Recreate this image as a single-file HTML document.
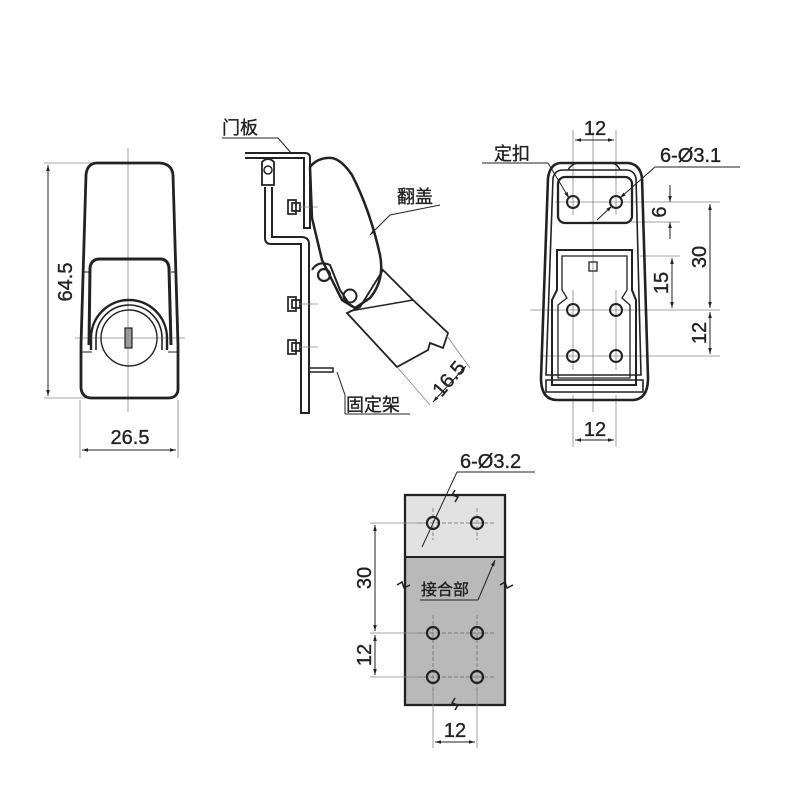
<!DOCTYPE html>
<html><head><meta charset="utf-8"><style>
html,body{margin:0;padding:0;background:#fff;}
svg{display:block;}
text{font-family:"Liberation Sans","Noto Sans CJK SC",sans-serif;fill:#222;stroke:#222;stroke-width:0.35;}
</style></head><body>
<svg width="800" height="800" viewBox="0 0 800 800" xmlns="http://www.w3.org/2000/svg">
<defs>
<marker id="a" viewBox="0 0 10 10" refX="10" refY="5" markerWidth="8" markerHeight="6" orient="auto-start-reverse"><path d="M0,2 L10,5 L0,8 z" fill="#222"/></marker>
</defs>
<g stroke="#222" fill="none">
<!-- LEFT VIEW -->
<g stroke="#888" stroke-width="0.8">
<line x1="128" y1="148" x2="128" y2="412"/>
<line x1="75" y1="338" x2="185" y2="338"/>
<line x1="44" y1="163" x2="130" y2="163"/>
<line x1="44" y1="398" x2="90" y2="398"/>
<line x1="80" y1="400" x2="80" y2="458"/>
<line x1="178" y1="400" x2="178" y2="458"/>
</g>
<line x1="48" y1="165" x2="48" y2="396" stroke-width="1" marker-start="url(#a)" marker-end="url(#a)"/>
<line x1="82" y1="450" x2="176" y2="450" stroke-width="1" marker-start="url(#a)" marker-end="url(#a)"/>
<path d="M96,163 L160,163 Q172,164 173,175 L178,345 L178,390 Q177,398 168,398 L92,398 Q82,398 81,388 L81,345 L86,175 Q87,164 96,163 Z" stroke-width="2.8"/>
<path d="M89,345 L90,268 Q91,259 100,259 L160,259 Q168,259 169,268 L171,345" stroke-width="3"/>
<line x1="83" y1="272" x2="89" y2="272" stroke-width="1"/>
<line x1="171" y1="272" x2="177" y2="272" stroke-width="1"/>
<line x1="82" y1="352" x2="92" y2="352" stroke-width="1"/>
<line x1="168" y1="352" x2="177" y2="352" stroke-width="1"/>
<path d="M91,350 L91,338 A38,38 0 0 1 167,338 L167,350" stroke-width="2.4"/>
<path d="M96,350 L96,338 A33,33 0 0 1 162,338 L162,350" stroke-width="1.6"/>
<circle cx="129" cy="338" r="28" stroke-width="1.4"/>
<rect x="125" y="328" width="7" height="20" fill="#999" stroke-width="1.2"/>
<!-- MIDDLE VIEW -->
<path d="M245,153 L305,153 Q310,153 310,158 L310,228 L304,228 L304,158 L245,158" stroke-width="2"/>
<line x1="222" y1="138" x2="278" y2="138" stroke-width="1"/>
<line x1="278" y1="138" x2="292" y2="154" stroke-width="1"/>
<path d="M262,185 L262,162 Q268,156 274,162 L274,185 Z" stroke-width="1.8"/>
<circle cx="268" cy="170" r="4" stroke-width="1.5"/>
<path d="M265,187 L265,238 Q265,244 271,244 L301,244 L301,413 L309,413 L309,244 Q309,237 301,237 L272,237 L272,187" stroke-width="2"/>
<path d="M309,368 L333,368 L333,372 L309,372" stroke-width="1.5"/>
<line x1="337" y1="372" x2="345" y2="395" stroke-width="1"/>
<line x1="345" y1="395" x2="345" y2="414" stroke-width="1"/>
<line x1="345" y1="414" x2="410" y2="414" stroke-width="1"/>
<g stroke-width="1.7">
<rect x="288" y="200" width="8" height="14"/><rect x="292" y="203" width="8" height="8"/>
<rect x="288" y="297" width="8" height="14"/><rect x="292" y="300" width="8" height="8"/>
<rect x="288" y="340" width="8" height="14"/><rect x="292" y="343" width="8" height="8"/>
</g>
<line x1="300" y1="207" x2="318" y2="207" stroke="#888" stroke-width="0.8"/>
<line x1="300" y1="304" x2="318" y2="304" stroke="#888" stroke-width="0.8"/>
<line x1="300" y1="347" x2="318" y2="347" stroke="#888" stroke-width="0.8"/>
<path d="M310,167 Q318,157 332,158 Q342,160 352,175 Q370,210 380,255 Q385,280 370,298 L355,308 L342,300 L322,260 L312,218 Z" stroke-width="2.5"/>
<path d="M312,270 Q318,260 330,265 L340,290 L350,305" stroke-width="2"/>
<circle cx="324" cy="275" r="6" stroke-width="2.2"/>
<circle cx="350" cy="296" r="6.5" stroke-width="2"/>
<path d="M383,270 L413,300 L448,333 L443,348 L430,343 L428,350 L397,367 L347,313 L360,307 Z" stroke-width="1.8"/>
<line x1="350" y1="311" x2="413" y2="300" stroke-width="1.5"/>
<line x1="390" y1="215" x2="440" y2="205" stroke-width="1"/>
<line x1="370" y1="235" x2="390" y2="215" stroke-width="1" marker-start="url(#a)"/>
<line x1="398" y1="368" x2="430" y2="405" stroke="#888" stroke-width="0.8"/>
<line x1="447" y1="336" x2="470" y2="368" stroke="#888" stroke-width="0.8"/>
<line x1="433" y1="402" x2="466" y2="366" stroke-width="1" marker-start="url(#a)" marker-end="url(#a)"/>
<!-- RIGHT VIEW -->
<g stroke="#888" stroke-width="0.8">
<line x1="593" y1="132" x2="593" y2="412"/>
<line x1="573" y1="130" x2="573" y2="215"/><line x1="616" y1="130" x2="616" y2="215"/>
<line x1="573" y1="395" x2="573" y2="447"/><line x1="616" y1="395" x2="616" y2="447"/>
<line x1="555" y1="202" x2="720" y2="202"/>
<line x1="590" y1="222" x2="680" y2="222"/>
<line x1="640" y1="256" x2="680" y2="256"/>
<line x1="530" y1="310" x2="720" y2="310"/>
<line x1="540" y1="356" x2="720" y2="356"/>
<line x1="573" y1="290" x2="573" y2="370"/><line x1="616" y1="290" x2="616" y2="370"/>
</g>
<line x1="575" y1="140" x2="614" y2="140" stroke-width="1" marker-start="url(#a)" marker-end="url(#a)"/>
<line x1="575" y1="440" x2="614" y2="440" stroke-width="1" marker-start="url(#a)" marker-end="url(#a)"/>
<line x1="670" y1="185" x2="670" y2="202" stroke-width="1" marker-end="url(#a)"/>
<line x1="670" y1="239" x2="670" y2="222" stroke-width="1" marker-end="url(#a)"/>
<line x1="710" y1="204" x2="710" y2="308" stroke-width="1" marker-start="url(#a)" marker-end="url(#a)"/>
<line x1="672" y1="258" x2="672" y2="308" stroke-width="1" marker-start="url(#a)" marker-end="url(#a)"/>
<line x1="710" y1="312" x2="710" y2="354" stroke-width="1" marker-start="url(#a)" marker-end="url(#a)"/>
<path d="M560,163 L628,163 Q640,164 642,178 L648,378 Q648,400 632,400 L557,400 Q541,400 541,378 L548,178 Q550,164 560,163 Z" stroke-width="2.6"/>
<path d="M553,178 Q555,170 563,170 L626,170 Q634,170 636,178 L641,375 L546,375 Z" stroke-width="1.6"/>
<path d="M546,380 L643,380 L643,392 L546,392 Z" stroke-width="1.6"/>
<rect x="558" y="177" width="74" height="46" rx="7" stroke-width="2.3"/>
<path d="M568,170 Q572,163 580,163 L610,163 Q617,163 620,170" stroke-width="1.4"/>
<path d="M557,250 L632,250 L632,290 L636,300 L636,385 L552,385 L552,300 L557,290 Z" stroke-width="2"/>
<path d="M562,256 L627,256 L627,290 L622,298 L630,305 L630,378 L558,378 L558,305 L567,298 L562,290 Z" stroke-width="1.3"/>
<rect x="589" y="262" width="8" height="9" stroke-width="1.3"/>
<g stroke-width="2">
<circle cx="573" cy="202" r="6"/><circle cx="616" cy="202" r="6"/>
<circle cx="573" cy="310" r="6"/><circle cx="616" cy="310" r="6"/>
<circle cx="573" cy="356" r="6"/><circle cx="616" cy="356" r="6"/>
</g>
<line x1="482" y1="163" x2="548" y2="163" stroke-width="1"/>
<line x1="548" y1="163" x2="569" y2="198" stroke-width="1" marker-end="url(#a)"/>
<line x1="655" y1="167" x2="740" y2="167" stroke-width="1"/>
<line x1="655" y1="167" x2="620" y2="198" stroke-width="1" marker-end="url(#a)"/>
<line x1="597" y1="220" x2="612" y2="206" stroke-width="1" marker-end="url(#a)"/>
<!-- BOTTOM VIEW -->
<rect x="405" y="495" width="100" height="62" fill="#e2e2e2" stroke="none"/>
<rect x="405" y="557" width="100" height="148" fill="#b9b9b9" stroke="none"/>
<rect x="405" y="495" width="100" height="210" stroke-width="2.3"/>
<line x1="405" y1="557" x2="505" y2="557" stroke-width="2"/>
<g stroke="#666" stroke-width="0.7" stroke-dasharray="4,2">
<line x1="433" y1="508" x2="433" y2="540"/><line x1="477" y1="508" x2="477" y2="540"/>
<line x1="418" y1="523" x2="495" y2="523"/>
<line x1="433" y1="615" x2="433" y2="695"/><line x1="477" y1="615" x2="477" y2="695"/>
<line x1="418" y1="633" x2="495" y2="633"/><line x1="418" y1="677" x2="495" y2="677"/>
</g>
<g stroke="#888" stroke-width="0.8">
<line x1="370" y1="523" x2="428" y2="523"/>
<line x1="370" y1="633" x2="428" y2="633"/>
<line x1="370" y1="677" x2="428" y2="677"/>
<line x1="433" y1="690" x2="433" y2="748"/><line x1="477" y1="690" x2="477" y2="748"/>
</g>
<line x1="375" y1="525" x2="375" y2="631" stroke-width="1" marker-start="url(#a)" marker-end="url(#a)"/>
<line x1="375" y1="635" x2="375" y2="675" stroke-width="1" marker-start="url(#a)" marker-end="url(#a)"/>
<line x1="435" y1="742" x2="475" y2="742" stroke-width="1" marker-start="url(#a)" marker-end="url(#a)"/>
<g stroke-width="2.2">
<circle cx="433" cy="523" r="6"/><circle cx="477" cy="523" r="6"/>
<circle cx="433" cy="633" r="6"/><circle cx="477" cy="633" r="6"/>
<circle cx="433" cy="677" r="6"/><circle cx="477" cy="677" r="6"/>
</g>
<line x1="457" y1="472" x2="535" y2="472" stroke-width="1"/>
<line x1="457" y1="472" x2="422" y2="547" stroke-width="1"/>
<line x1="420" y1="600" x2="478" y2="600" stroke-width="1"/>
<line x1="478" y1="600" x2="495" y2="560" stroke-width="1" marker-end="url(#a)"/>
<path d="M455,490 L452,495 L458,497 L455,502" stroke-width="1.5"/>
<path d="M455,698 L452,703 L458,705 L455,710" stroke-width="1.5"/>
<path d="M397,585 L402,582 L404,588 L410,585" stroke-width="1.5"/>
<path d="M500,585 L505,582 L507,588 L513,585" stroke-width="1.5"/>
</g>
<!-- TEXT -->
<g font-size="20">
<text x="72" y="282" transform="rotate(-90 72 282)" text-anchor="middle">64.5</text>
<text x="130" y="444" text-anchor="middle">26.5</text>
<text x="222" y="134" font-size="18">门板</text>
<text x="397" y="203" font-size="18">翻盖</text>
<text x="346" y="411" font-size="18">固定架</text>
<text x="454" y="383" transform="rotate(-50 454 383)" text-anchor="middle">16.5</text>
<text x="595" y="135" text-anchor="middle">12</text>
<text x="494" y="160" font-size="18">定扣</text>
<text x="660" y="162">6-Ø3.1</text>
<text x="666" y="212" transform="rotate(-90 666 212)" text-anchor="middle">6</text>
<text x="706" y="257" transform="rotate(-90 706 257)" text-anchor="middle">30</text>
<text x="668" y="283" transform="rotate(-90 668 283)" text-anchor="middle">15</text>
<text x="706" y="333" transform="rotate(-90 706 333)" text-anchor="middle">12</text>
<text x="595" y="436" text-anchor="middle">12</text>
<text x="460" y="468">6-Ø3.2</text>
<text x="421" y="595" font-size="16">接合部</text>
<text x="371" y="578" transform="rotate(-90 371 578)" text-anchor="middle">30</text>
<text x="371" y="655" transform="rotate(-90 371 655)" text-anchor="middle">12</text>
<text x="455" y="737" text-anchor="middle">12</text>
</g>
</svg>
</body></html>
